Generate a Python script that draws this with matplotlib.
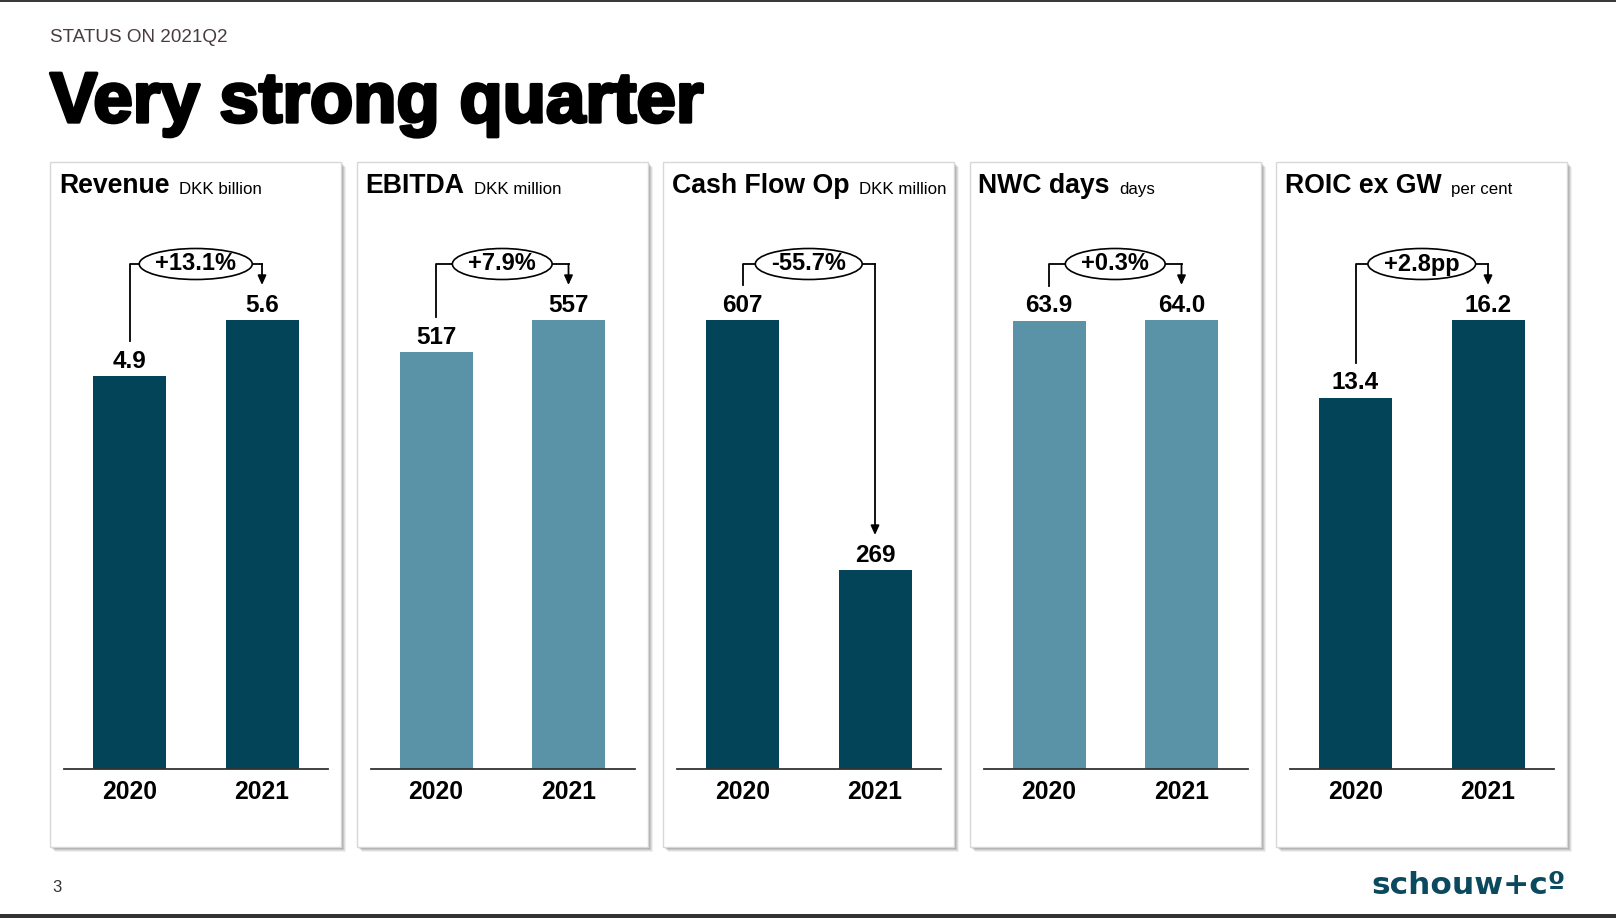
"""
Recreate the 'Very strong quarter' KPI slide: five small bar panels,
2020 vs 2021, with a bracket + ellipse showing the change.
Output: out.png (1616x918)
"""
import matplotlib
matplotlib.use("Agg")
import matplotlib.pyplot as plt
from matplotlib.patches import Rectangle, Ellipse
import matplotlib.patheffects as pe

plt.rcParams["font.family"] = ["Liberation Sans", "DejaVu Sans"]

# --- data -------------------------------------------------------------
years = ["2020", "2021"]
titles = ["Revenue", "EBITDA", "Cash Flow Op", "NWC days", "ROIC ex GW"]
units = ["DKK billion", "DKK million", "DKK million", "days", "per cent"]
values_2020 = [4.9, 517, 607, 63.9, 13.4]
values_2021 = [5.6, 557, 269, 64.0, 16.2]
value_fmt = ["{:.1f}", "{:.0f}", "{:.0f}", "{:.1f}", "{:.1f}"]
changes = ["+13.1%", "+7.9%", "-55.7%", "+0.3%", "+2.8pp"]
light_panel = [False, True, False, True, False]

DARK = "#034459"
LIGHT = "#5A93A8"
W, H = 1616, 918

fig = plt.figure(figsize=(W / 100, H / 100), dpi=100)
bg = fig.add_axes([0, 0, 1, 1])
bg.set_xlim(0, W)
bg.set_ylim(H, 0)
bg.axis("off")

# page frame lines
bg.add_patch(Rectangle((0, 0), W, 2, color="#3a3a3a", lw=0))
bg.add_patch(Rectangle((0, H - 4), W, 4, color="#333333", lw=0))

bg.text(50, 38, "STATUS ON 2021Q2", fontsize=13.6, color="#4a3b40", va="center")
bg.text(50, 122, "Very strong quarter", fontsize=51, fontweight="bold",
        color="black", va="baseline",
        path_effects=[pe.withStroke(linewidth=2.4, foreground="black")])
bg.text(52, 888, "3", fontsize=12, color="#333333", va="center")
bg.text(1566, 886, "schouw+cº", fontsize=22.5, fontweight="bold", color="#0b4a5e",
        ha="right", va="center", family="DejaVu Sans")

panel_left0, panel_step, panel_w = 50, 306.5, 291
panel_top, panel_bot = 162, 847
base_y, top_y, axes_top = 769, 320, 200   # pixel rows
px_per_x = 132.5                          # pixels between bar centres

fig.canvas.draw()
renderer = fig.canvas.get_renderer()

for i in range(len(titles)):
    pl = panel_left0 + i * panel_step
    # shadow + card
    for k, a in [(5, 0.06), (4, 0.08), (3, 0.10), (2, 0.12)]:
        bg.add_patch(Rectangle((pl + k, panel_top + k), panel_w, panel_bot - panel_top,
                               facecolor="black", alpha=a, lw=0))
    bg.add_patch(Rectangle((pl, panel_top), panel_w, panel_bot - panel_top,
                           facecolor="white", edgecolor="#d8d8d8", lw=1))

    t = bg.text(pl + 9, 193, titles[i], fontsize=19.2, fontweight="bold",
                va="baseline")
    bg.annotate(units[i], xy=(1, 0), xycoords=t, xytext=(7, 1.5),
                textcoords="offset points", fontsize=12.2, va="bottom")

    # bar axes
    ax = fig.add_axes([(pl + 14) / W, (H - base_y) / H, 264 / W,
                       (base_y - axes_top) / H])
    ax.patch.set_alpha(0)
    vals = [values_2020[i], values_2021[i]]
    ymax = max(vals)
    ppu = (base_y - top_y) / ymax           # pixels per data unit
    ax.set_ylim(0, (base_y - axes_top) / ppu)
    ax.set_xlim(-65.5 / px_per_x, 1 + 66 / px_per_x)
    color = LIGHT if light_panel[i] else DARK
    ax.bar([0, 1], vals, width=73 / px_per_x, color=color)
    for sp in ["top", "right", "left"]:
        ax.spines[sp].set_visible(False)
    ax.spines["bottom"].set_color("#333333")
    ax.spines["bottom"].set_linewidth(1.3)
    ax.set_yticks([])
    ax.set_xticks([0, 1])
    ax.set_xticklabels(years, fontsize=17.8, fontweight="bold")
    ax.tick_params(axis="x", length=0, pad=8)

    for x, v in zip([0, 1], vals):
        ax.annotate(value_fmt[i].format(v), xy=(x, v), xytext=(0, 6),
                    textcoords="offset points", ha="center", va="baseline",
                    fontsize=17.5, fontweight="bold")

    # bracket with ellipse
    level = (base_y - 264) / ppu
    gap = 35 / ppu
    lab = ax.text(0.5, level, changes[i], ha="center", va="center",
                  fontsize=17, fontweight="bold", zorder=5)
    tw = lab.get_window_extent(renderer).width
    ew = (tw + 32) / px_per_x
    eh = 31 / ppu
    ax.add_patch(Ellipse((0.5, level), ew, eh, facecolor="white",
                         edgecolor="black", lw=1.2, clip_on=False, zorder=4))
    ax.plot([0, 0, 0.5 - ew / 2], [vals[0] + gap, level, level],
            color="black", lw=1.3, clip_on=False)
    ax.plot([0.5 + ew / 2, 1], [level, level], color="black", lw=1.3,
            clip_on=False)
    ax.annotate("", xy=(1, vals[1] + gap), xytext=(1, level),
                arrowprops=dict(arrowstyle="-|>,head_length=0.55,head_width=0.25",
                                color="black", lw=1.3, shrinkA=0, shrinkB=0),
                annotation_clip=False)

fig.savefig("out.png", dpi=100)
